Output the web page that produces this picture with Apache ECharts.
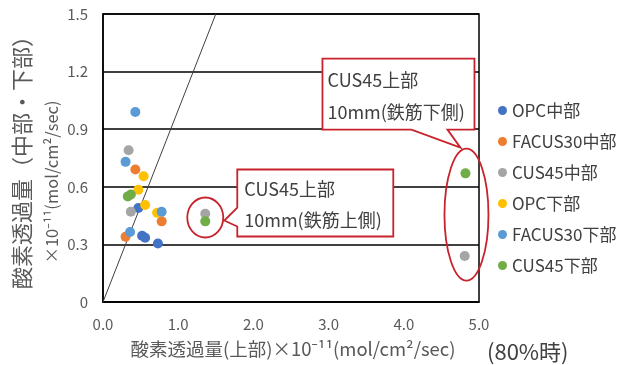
<!DOCTYPE html>
<html>
<head>
<meta charset="utf-8">
<script src="https://cdn.jsdelivr.net/npm/echarts@6/dist/echarts.min.js"></script>
<style>
  html, body { margin: 0; padding: 0; background: #fff; }
  #chart { width: 620px; height: 365px; }
</style>
</head>
<body>
<div id="chart"></div>
<script>
// Oxygen permeability: top section (x) vs. middle / lower sections (y), ×10^-11 mol/cm²/sec
const seriesNames = ['OPC中部', 'FACUS30中部', 'CUS45中部', 'OPC下部', 'FACUS30下部', 'CUS45下部'];

const opcMid      = [[0.47, 0.49], [0.52, 0.345], [0.56, 0.335], [0.73, 0.305]];
const facus30Mid  = [[0.43, 0.69], [0.78, 0.42], [0.30, 0.34]];
const cus45Mid    = [[0.34, 0.79], [0.37, 0.47], [1.36, 0.46], [4.81, 0.24]];
const opcLow      = [[0.54, 0.655], [0.47, 0.585], [0.56, 0.505], [0.72, 0.465]];
const facus30Low  = [[0.43, 0.99], [0.30, 0.73], [0.78, 0.47], [0.36, 0.365]];
const cus45Low    = [[0.33, 0.55], [0.37, 0.56], [1.36, 0.42], [4.82, 0.67]];

// y = x reference line
const equalLine = [[0, 0], [1.5, 1.5]];

const xTicks = ['0.0', '1.0', '2.0', '3.0', '4.0', '5.0'];
const yTicks = ['0', '0.3', '0.6', '0.9', '1.2', '1.5'];

// Callout notes and the data points they circle
const noteUpper = ['CUS45上部', '10mm(鉄筋上側)'];
const noteLower = ['CUS45上部', '10mm(鉄筋下側)'];
const circledUpper = [1.36, 0.44];
const circledLower = [4.82, 0.455];

const palette = ['#4472C4', '#ED7D31', '#A5A5A5', '#FFC000', '#5B9BD5', '#70AD47'];
const seriesData = [opcMid, facus30Mid, cus45Mid, opcLow, facus30Low, cus45Low];

const FONT = "'Noto Sans CJK JP', 'Noto Sans', sans-serif";
const RED = '#C8232C';

const chart = echarts.init(document.getElementById('chart'), null, { renderer: 'canvas' });

const series = [{
  type: 'line',
  data: equalLine,
  symbol: 'none',
  silent: true,
  lineStyle: { color: '#404040', width: 1 },
  z: 1
}].concat(seriesNames.map((name, i) => ({
  name: name,
  type: 'scatter',
  data: seriesData[i],
  symbol: 'circle',
  symbolSize: 10,
  itemStyle: { color: palette[i], opacity: 1 },
  z: 3
})));

chart.setOption({
  animation: false,
  color: palette,
  grid: {
    left: 103, right: 141, top: 14, bottom: 63,
    show: true, borderColor: '#000', borderWidth: 1.5, backgroundColor: 'transparent'
  },
  xAxis: {
    type: 'value', min: 0, max: 5, interval: 1,
    axisLine: { show: true, lineStyle: { color: '#000', width: 1.5 } },
    axisTick: { show: false },
    splitLine: { show: false },
    axisLabel: {
      margin: 15, fontSize: 15, color: '#595959', fontFamily: FONT,
      formatter: (v, idx) => xTicks[idx]
    }
  },
  yAxis: {
    type: 'value', min: 0, max: 1.5, interval: 0.3,
    axisLine: { show: true, lineStyle: { color: '#000', width: 1.5 } },
    axisTick: { show: false },
    splitLine: { show: true, lineStyle: { color: '#000', width: 1.5 } },
    axisLabel: {
      margin: 15, fontSize: 15, color: '#595959', fontFamily: FONT,
      formatter: (v, idx) => yTicks[idx]
    }
  },
  legend: {
    data: seriesNames,
    orient: 'vertical',
    left: 493, top: 96,
    icon: 'circle',
    itemWidth: 9, itemHeight: 9,
    itemGap: 12,
    textStyle: { fontSize: 17, color: '#404040', fontFamily: FONT, lineHeight: 19 }
  },
  series: series
});

function txt(x, y, text, opts) {
  return Object.assign({
    type: 'text', x: x, y: y, z: 20,
    style: Object.assign({
      text: text, fontSize: 16, fill: '#595959', fontFamily: FONT,
      align: 'left', verticalAlign: 'middle'
    }, opts && opts.style)
  }, opts && opts.el);
}

const e1 = chart.convertToPixel({ gridIndex: 0 }, circledUpper);
const e2 = chart.convertToPixel({ gridIndex: 0 }, circledLower);

// Callout beside the point pair near x = 1.4
const c1 = { L: e1[0] + 32, T: e1[1] - 48, R: e1[0] + 188, B: e1[1] + 19 };
const callout1 = [
  [c1.L, c1.T], [c1.R, c1.T], [c1.R, c1.B], [c1.L, c1.B],
  [c1.L, e1[1] + 9], [e1[0] + 19, e1[1] + 3], [c1.L, e1[1] - 10]
];

// Callout above the point pair near x = 4.8
const c2 = { L: e2[0] - 143, T: e2[1] - 156, R: e2[0] + 9, B: e2[1] - 85 };
const callout2 = [
  [c2.L, c2.T], [c2.R, c2.T], [c2.R, c2.B], [e2[0] - 18, c2.B],
  [e2[0] - 5, e2[1] - 67], [e2[0] - 54, c2.B], [c2.L, c2.B]
];

const calloutStyle = { fill: '#fff', stroke: RED, lineWidth: 1.8, lineJoin: 'miter' };
const noteStyle = { fontSize: 18, fill: '#404040' };

chart.setOption({
  graphic: [
    { type: 'ellipse', z: 15, shape: { cx: e1[0], cy: e1[1], rx: 18, ry: 20 },
      style: { fill: 'none', stroke: RED, lineWidth: 1.8 } },
    { type: 'ellipse', z: 15, shape: { cx: e2[0] + 1, cy: e2[1], rx: 22, ry: 66 },
      style: { fill: 'none', stroke: RED, lineWidth: 1.8 } },
    { type: 'polygon', z: 16, shape: { points: callout1 }, style: calloutStyle },
    { type: 'polygon', z: 16, shape: { points: callout2 }, style: calloutStyle },
    txt(c1.L + 7, c1.T + 20, noteUpper[0], { style: noteStyle }),
    txt(c1.L + 7, c1.T + 51, noteUpper[1], { style: noteStyle }),
    txt(c2.L + 5, c2.T + 22, noteLower[0], { style: noteStyle }),
    txt(c2.L + 5, c2.T + 54, noteLower[1], { style: noteStyle }),
    // axis titles
    txt(293, 349, '酸素透過量(上部)×10⁻¹¹(mol/cm²/sec)', { style: { align: 'center', fontSize: 18.5 } }),
    txt(487, 352, '(80%時)', { style: { fontSize: 22, fill: '#404040' } }),
    txt(22, 157, '酸素透過量（中部・下部）', { style: { align: 'center', fontSize: 22 }, el: { rotation: Math.PI / 2 } }),
    txt(52, 182, '×10⁻¹¹(mol/cm²/sec)', { style: { align: 'center', fontSize: 16.5 }, el: { rotation: Math.PI / 2 } })
  ]
});
</script>
</body>
</html>
